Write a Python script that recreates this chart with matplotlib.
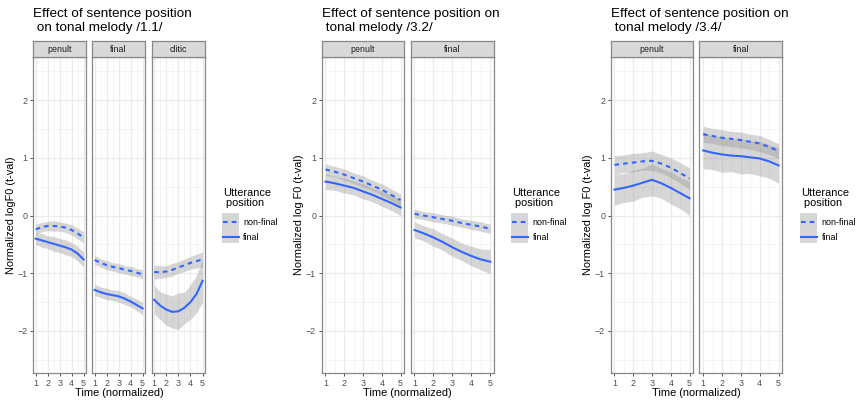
import matplotlib
matplotlib.use("Agg")
import matplotlib.pyplot as plt
from matplotlib.patches import Rectangle
from matplotlib.lines import Line2D
from matplotlib.ticker import MultipleLocator

plt.rcParams['font.family'] = ['Liberation Sans', 'DejaVu Sans']

# ---------------- data ----------------
time = [1, 1.5, 2, 2.5, 3, 3.5, 4, 4.5, 5]
series_labels = ["non-final", "final"]

# tonal melody /1.1/
t11_penult_nf = [-0.24, -0.20, -0.18, -0.18, -0.19, -0.21, -0.25, -0.31, -0.38]
t11_penult_nf_ci = [0.09, 0.08, 0.08, 0.09, 0.08, 0.08, 0.09, 0.09, 0.10]
t11_penult_f = [-0.40, -0.43, -0.46, -0.49, -0.52, -0.55, -0.59, -0.66, -0.76]
t11_penult_f_ci = [0.10, 0.12, 0.11, 0.13, 0.12, 0.13, 0.12, 0.13, 0.13]
t11_final_nf = [-0.77, -0.82, -0.86, -0.89, -0.91, -0.94, -0.96, -0.99, -1.02]
t11_final_nf_ci = [0.08, 0.07, 0.08, 0.07, 0.08, 0.07, 0.08, 0.07, 0.08]
t11_final_f = [-1.29, -1.33, -1.36, -1.38, -1.40, -1.44, -1.49, -1.55, -1.61]
t11_final_f_ci = [0.10, 0.09, 0.10, 0.09, 0.10, 0.10, 0.09, 0.10, 0.11]
t11_clitic_nf = [-0.98, -0.98, -0.97, -0.94, -0.90, -0.86, -0.82, -0.79, -0.76]
t11_clitic_nf_ci = [0.12, 0.11, 0.10, 0.11, 0.10, 0.11, 0.11, 0.12, 0.13]
t11_clitic_f = [-1.46, -1.56, -1.63, -1.67, -1.66, -1.60, -1.50, -1.36, -1.13]
t11_clitic_f_ci = [0.25, 0.24, 0.27, 0.28, 0.32, 0.27, 0.30, 0.32, 0.38]

# tonal melody /3.2/
t32_penult_nf = [0.80, 0.76, 0.71, 0.65, 0.59, 0.52, 0.45, 0.36, 0.27]
t32_penult_nf_ci = [0.10, 0.09, 0.10, 0.09, 0.10, 0.09, 0.10, 0.10, 0.11]
t32_penult_f = [0.59, 0.56, 0.52, 0.48, 0.42, 0.36, 0.29, 0.22, 0.14]
t32_penult_f_ci = [0.14, 0.12, 0.13, 0.12, 0.13, 0.12, 0.13, 0.13, 0.14]
t32_final_nf = [0.03, 0.00, -0.03, -0.06, -0.09, -0.13, -0.16, -0.19, -0.23]
t32_final_nf_ci = [0.08, 0.07, 0.08, 0.07, 0.08, 0.07, 0.08, 0.08, 0.08]
t32_final_f = [-0.25, -0.31, -0.38, -0.46, -0.55, -0.63, -0.70, -0.76, -0.80]
t32_final_f_ci = [0.14, 0.13, 0.15, 0.14, 0.16, 0.15, 0.17, 0.18, 0.21]

# tonal melody /3.4/
t34_penult_nf = [0.88, 0.90, 0.92, 0.94, 0.95, 0.90, 0.83, 0.74, 0.64]
t34_penult_nf_ci = [0.16, 0.15, 0.16, 0.15, 0.17, 0.16, 0.17, 0.18, 0.19]
t34_penult_f = [0.45, 0.48, 0.52, 0.57, 0.62, 0.56, 0.48, 0.39, 0.30]
t34_penult_f_ci = [0.27, 0.25, 0.27, 0.25, 0.28, 0.26, 0.28, 0.27, 0.30]
t34_final_nf = [1.41, 1.38, 1.35, 1.33, 1.31, 1.28, 1.25, 1.19, 1.12]
t34_final_nf_ci = [0.14, 0.13, 0.14, 0.13, 0.14, 0.13, 0.14, 0.13, 0.13]
t34_final_f = [1.13, 1.09, 1.06, 1.04, 1.03, 1.01, 0.99, 0.94, 0.87]
t34_final_f_ci = [0.32, 0.29, 0.31, 0.28, 0.31, 0.28, 0.30, 0.29, 0.31]

x_ticks = [1, 2, 3, 4, 5]
y_ticks = [-2, -1, 0, 1, 2]

# ---------------- layout (pixel positions) ----------------
W, H = 857, 400
STRIP_TOP, PANEL_TOP, PANEL_BOT = 41, 57, 373
BLUE = "#3366FF"
BAND = "#999999"
KEY_FILL = "#D6D6D6"
BORDER = "#888888"
DASH = (0, (2.2, 2.0))

groups = [
    dict(title="Effect of sentence position\n on tonal melody /1.1/",
         ylabel="Normalized logF0 (t-val)", ylab_x=11, legend_x=221.7,
         panels=[("penult", 33.3, 86, t11_penult_nf, t11_penult_nf_ci, t11_penult_f, t11_penult_f_ci),
                 ("final", 92.3, 145, t11_final_nf, t11_final_nf_ci, t11_final_f, t11_final_f_ci),
                 ("clitic", 151.7, 205, t11_clitic_nf, t11_clitic_nf_ci, t11_clitic_f, t11_clitic_f_ci)]),
    dict(title="Effect of sentence position on\n tonal melody /3.2/",
         ylabel="Normalized log F0 (t-val)", ylab_x=299, legend_x=511,
         panels=[("penult", 321.7, 404.3, t32_penult_nf, t32_penult_nf_ci, t32_penult_f, t32_penult_f_ci),
                 ("final", 410.7, 494, t32_final_nf, t32_final_nf_ci, t32_final_f, t32_final_f_ci)]),
    dict(title="Effect of sentence position on\n tonal melody /3.4/",
         ylabel="Normalized log F0 (t-val)", ylab_x=588, legend_x=800,
         panels=[("penult", 610.7, 693.3, t34_penult_nf, t34_penult_nf_ci, t34_penult_f, t34_penult_f_ci),
                 ("final", 699.3, 782.3, t34_final_nf, t34_final_nf_ci, t34_final_f, t34_final_f_ci)]),
]

fig = plt.figure(figsize=(W / 100, H / 100), dpi=100)


def fx(x):
    return x / W


def fy(y):
    return 1 - y / H


def px_axes(x0, x1, y0, y1):
    return fig.add_axes([fx(x0), fy(y1), (x1 - x0) / W, (y1 - y0) / H])


for g in groups:
    for i, (facet, x0, x1, nf, nf_ci, f, f_ci) in enumerate(g["panels"]):
        ax = px_axes(x0, x1, PANEL_TOP, PANEL_BOT)
        ax.set_xlim(0.8, 5.2)
        ax.set_ylim(-2.73, 2.75)
        ax.set_xticks(x_ticks)
        ax.set_yticks(y_ticks)
        ax.xaxis.set_minor_locator(MultipleLocator(0.5))
        ax.yaxis.set_minor_locator(MultipleLocator(0.5))
        ax.grid(which="major", color="#EBEBEB", lw=0.9)
        ax.grid(which="minor", color="#F2F2F2", lw=0.6)
        ax.set_axisbelow(True)
        ax.tick_params(which="minor", length=0)
        ax.tick_params(which="major", length=2.5, width=0.6, color="#333333",
                       labelsize=6.4, labelcolor="#4D4D4D", pad=1.5)
        for sp in ax.spines.values():
            sp.set_color(BORDER)
            sp.set_linewidth(0.9)
        if i > 0:
            ax.tick_params(axis="y", left=False, labelleft=False)

        # confidence bands then smooths
        for fit, ci in ((nf, nf_ci), (f, f_ci)):
            lo = [v - c for v, c in zip(fit, ci)]
            hi = [v + c for v, c in zip(fit, ci)]
            ax.fill_between(time, lo, hi, color=BAND, alpha=0.4, lw=0)
        ax.plot(time, nf, color=BLUE, lw=1.5, ls=DASH)
        ax.plot(time, f, color=BLUE, lw=1.5)

        # facet strip
        sax = px_axes(x0, x1, STRIP_TOP, PANEL_TOP)
        sax.set_facecolor("#D9D9D9")
        sax.set_xticks([])
        sax.set_yticks([])
        for sp in sax.spines.values():
            sp.set_color(BORDER)
            sp.set_linewidth(0.9)
        sax.text(0.5, 0.5, facet, ha="center", va="center", fontsize=6.4,
                 color="#1A1A1A", transform=sax.transAxes)

    left = g["panels"][0][1]
    right = g["panels"][-1][2]
    fig.text(fx(left), fy(8), g["title"], ha="left", va="top",
             fontsize=9.7, linespacing=1.2, color="black")
    fig.text(fx(g["ylab_x"]), fy(215), g["ylabel"], rotation=90,
             ha="center", va="center", fontsize=7.9)
    fig.text(fx((left + right) / 2), fy(393), "Time (normalized)",
             ha="center", va="center", fontsize=7.9)

    # legend, ggplot style: grey key boxes stacked, line drawn over each
    lx = g["legend_x"]
    fig.text(fx(lx + 1), fy(187.5), "Utterance\n position", ha="left", va="top",
             fontsize=7.9, linespacing=1.1)
    key_w, key_h, key_top = 17.3, 15.3, 212.7
    for k, (lab, ls) in enumerate(zip(series_labels, [DASH, "-"])):
        top = key_top + k * key_h
        fig.add_artist(Rectangle((fx(lx), fy(top + key_h)), key_w / W, key_h / H,
                                 transform=fig.transFigure, fc=KEY_FILL, ec="none"))
        ly = top + key_h / 2 + 1.8
        fig.add_artist(Line2D([fx(lx + 1), fx(lx + key_w - 0.5)], [fy(ly), fy(ly)],
                              transform=fig.transFigure, color=BLUE, lw=1.5, ls=ls))
        fig.text(fx(lx + key_w + 4.3), fy(ly), lab, ha="left", va="center",
                 fontsize=6.4, color="black")

fig.savefig("out.png", dpi=100)
